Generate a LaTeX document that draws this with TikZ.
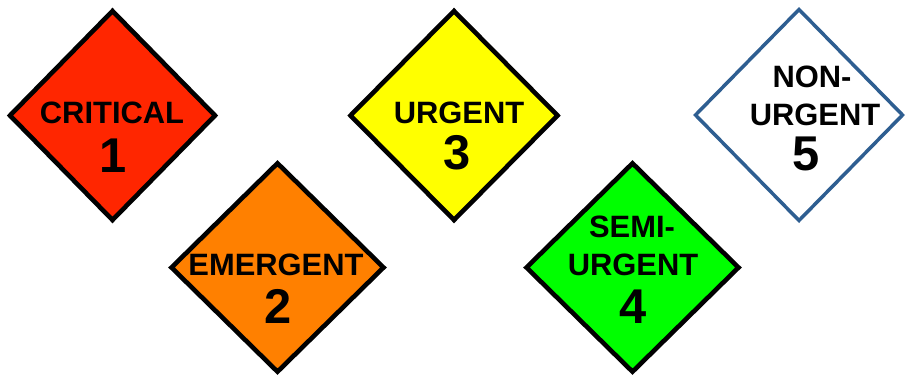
\documentclass[tikz,border=0pt]{standalone}
\usepackage{fontspec}
\setmainfont{Liberation Sans}
\definecolor{cred}{RGB}{255,38,0}
\definecolor{corange}{RGB}{255,128,0}
\definecolor{cyellow}{RGB}{255,255,0}
\definecolor{cgreen}{RGB}{0,255,0}
\definecolor{cblue}{RGB}{46,94,145}
\tikzset{
  sign/.style={draw=black,line width=4.6bp,line join=miter},
  lbl/.style={anchor=base,inner sep=0pt,font=\fontsize{31}{31}\selectfont\bfseries},
  num/.style={anchor=base,inner sep=0pt,font=\fontsize{49}{49}\selectfont\bfseries},
}
\begin{document}
\begin{tikzpicture}[x=1bp,y=-1bp]
\useasboundingbox (0,0) rectangle (907,375);
% 1 critical
\draw[sign,fill=cred] (112.5,11) -- (215,115.5) -- (112.5,220) -- (10,115.5) -- cycle;
\node[lbl] (t1) at (112,123) {CRITICAL};
\node[num] (n1) at (113,172) {1};
% 2 emergent
\draw[sign,fill=corange] (277.5,163.3) -- (383.5,267.5) -- (277.5,371.7) -- (171.5,267.5) -- cycle;
\node[lbl] (t2) at (276,275) {EMERGENT};
\node[num] (n2) at (278,323) {2};
% 3 urgent
\draw[sign,fill=cyellow] (454,11) -- (557.5,115.5) -- (454,220) -- (350.5,115.5) -- cycle;
\node[lbl] (t3) at (459,123) {URGENT};
\node[num] (n3) at (457,169) {3};
% 4 semi-urgent
\draw[sign,fill=cgreen] (632.5,163.3) -- (738.5,267.5) -- (632.5,371.7) -- (526.5,267.5) -- cycle;
\node[lbl] (t4a) at (632,237) {SEMI-};
\node[lbl] (t4b) at (633,275) {URGENT};
\node[num] (n4) at (633,323) {4};
% 5 non-urgent
\draw[draw=cblue,line width=3.5bp,line join=miter,fill=white] (799,9.5) -- (902.5,115) -- (799,220.5) -- (695.5,115) -- cycle;
\node[lbl] (t5a) at (812,87) {NON-};
\node[lbl] (t5b) at (815,125) {URGENT};
\node[num] (n5) at (806,170) {5};
\end{tikzpicture}
\end{document}
